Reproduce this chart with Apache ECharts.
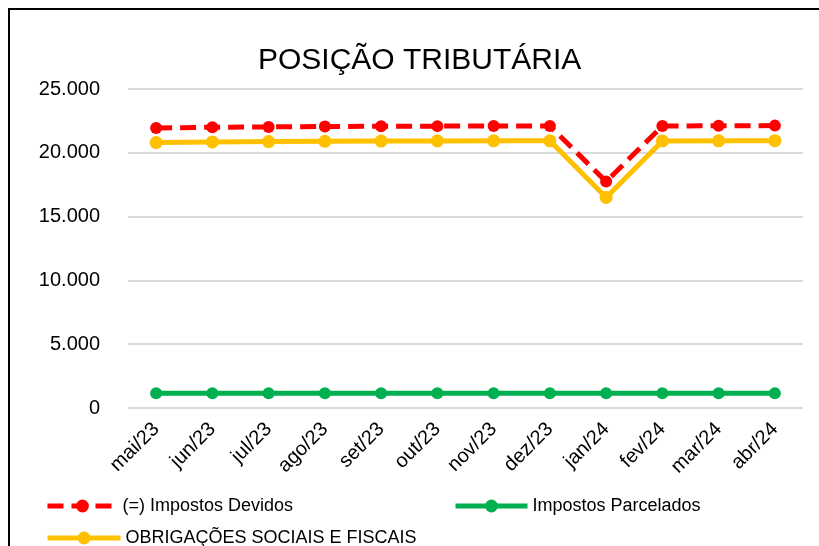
<!DOCTYPE html>
<html>
<head>
<meta charset="utf-8">
<script src="https://cdn.jsdelivr.net/npm/echarts@6/dist/echarts.min.js"></script>
<style>
  html, body { margin: 0; padding: 0; background: #fff; }
  #chart { width: 819px; height: 546px; }
</style>
</head>
<body>
<div id="chart"></div>
<script>
// meses
const months = ['mai/23', 'jun/23', 'jul/23', 'ago/23', 'set/23', 'out/23', 'nov/23', 'dez/23', 'jan/24', 'fev/24', 'mar/24', 'abr/24'];
// valores
const impostosDevidos = [21950, 22000, 22030, 22060, 22080, 22090, 22100, 22100, 17750, 22100, 22120, 22130];
const impostosParcelados = [1150, 1150, 1150, 1150, 1150, 1150, 1150, 1150, 1150, 1150, 1150, 1150];
const obrigacoes = [20800, 20850, 20880, 20900, 20920, 20930, 20940, 20940, 16500, 20930, 20940, 20950];

const FONT = 'Liberation Sans';
const chart = echarts.init(document.getElementById('chart'));

const legendText = { fontFamily: FONT, fontSize: 18, color: '#000' };
const legendLine = { width: 5 };

const option = {
    animation: false,
    title: {
        text: 'POSIÇÃO TRIBUTÁRIA',
        left: 253,
        top: 41,
        textStyle: { fontFamily: FONT, fontSize: 30, fontWeight: 'normal', color: '#000' }
    },
    graphic: [
        {
            type: 'rect',
            shape: { x: 9, y: 9, width: 900, height: 600 },
            style: { fill: 'none', stroke: '#000', lineWidth: 2 }
        }
    ],
    legend: [
        {
            left: 45, top: 497, padding: 0, itemWidth: 70, itemHeight: 16,
            data: ['(=) Impostos Devidos'], textStyle: legendText, lineStyle: legendLine
        },
        {
            left: 453, top: 497, padding: 0, itemWidth: 72, itemHeight: 16,
            data: ['Impostos Parcelados'], textStyle: legendText, lineStyle: legendLine
        },
        {
            left: 45, top: 529, padding: 0, itemWidth: 73, itemHeight: 16,
            data: ['OBRIGAÇÕES SOCIAIS E FISCAIS'], textStyle: legendText, lineStyle: legendLine
        }
    ],
    grid: { left: 128, right: 16, top: 89, bottom: 138 },
    xAxis: {
        type: 'category',
        data: months,
        axisLine: { show: false },
        axisTick: { show: false },
        axisLabel: { rotate: 45, margin: 18, fontFamily: FONT, fontSize: 20, color: '#000' }
    },
    yAxis: {
        type: 'value',
        min: 0, max: 25000, interval: 5000,
        axisLine: { show: false },
        axisTick: { show: false },
        splitLine: { lineStyle: { color: '#d9d9d9', width: 2 } },
        axisLabel: {
            margin: 28, fontFamily: FONT, fontSize: 20, color: '#000',
            formatter: v => v.toLocaleString('de-DE')
        }
    },
    series: [
        {
            name: '(=) Impostos Devidos',
            type: 'line',
            data: impostosDevidos,
            symbol: 'circle', symbolSize: 12,
            itemStyle: { color: '#ff0000' },
            lineStyle: { color: '#ff0000', width: 5, type: [16, 8] },
            z: 4
        },
        {
            name: 'Impostos Parcelados',
            type: 'line',
            data: impostosParcelados,
            symbol: 'circle', symbolSize: 12,
            itemStyle: { color: '#00b050' },
            lineStyle: { color: '#00b050', width: 5 },
            z: 3
        },
        {
            name: 'OBRIGAÇÕES SOCIAIS E FISCAIS',
            type: 'line',
            data: obrigacoes,
            symbol: 'circle', symbolSize: 13,
            itemStyle: { color: '#ffc000' },
            lineStyle: { color: '#ffc000', width: 5 },
            z: 2
        }
    ]
};
chart.setOption(option);
</script>
</body>
</html>
